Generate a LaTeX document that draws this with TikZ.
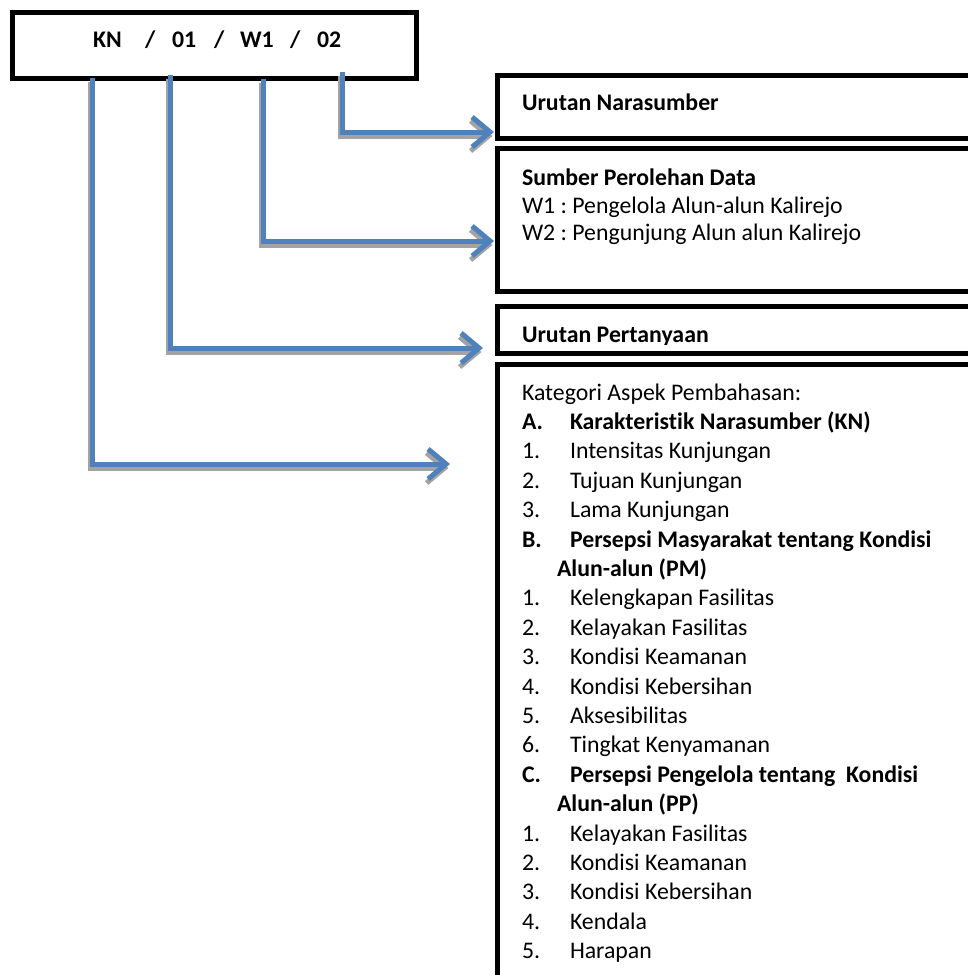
\documentclass[tikz,border=0pt]{standalone}
\usepackage{fontspec}
\setmainfont{Carlito}[Ligatures={NoCommon}]
\usetikzlibrary{arrows.meta}
\definecolor{arrowblue}{HTML}{4F81BD}
\definecolor{shadowgray}{HTML}{A3A3A3}
\frenchspacing
\begin{document}
\begin{tikzpicture}[x=1pt,y=-1pt,
  box/.style={draw=black, line width=5pt, inner sep=0pt, outer sep=0pt, anchor=north west, fill=white},
  txt/.style={anchor=base west, inner sep=0pt, outer sep=0pt, font=\fontsize{23.8}{28}\selectfont},
  btxt/.style={anchor=base west, inner sep=0pt, outer sep=0pt, font=\fontsize{23.8}{28}\selectfont\bfseries},
  conn/.style={draw=arrowblue, line width=5pt, -{Straight Barb[length=18pt,width=30pt]}},
  shade/.style={draw=shadowgray, line width=5pt, -{Straight Barb[length=18pt,width=30pt]}},
]
\clip (0,0) rectangle (968,975);
\fill[white] (0,0) rectangle (968,975);

% boxes
\node[box, minimum width=404.5pt, minimum height=65.5pt] (code) at (12,12.5) {};
\node[box, minimum width=500pt, minimum height=63pt] (b1) at (497.5,75.5) {};
\node[box, minimum width=500pt, minimum height=143pt] (b2) at (497.5,148) {};
\node[box, minimum width=500pt, minimum height=47pt] (b3) at (497.5,306.5) {};
\node[box, minimum width=500pt, minimum height=700pt] (b4) at (497.5,364.5) {};

% code text
\node[btxt] (tKN) at (93,47) {KN};
\node[btxt] (sl1) at (145,47) {/};
\node[btxt] (t01) at (172,47) {01};
\node[btxt] (sl2) at (214,47) {/};
\node[btxt] (tW1) at (240,47) {W1};
\node[btxt] (sl3) at (290,47) {/};
\node[btxt] (t02) at (317,47) {02};

% connector end points
\coordinate (s02) at (342,72);
\coordinate (e02) at (494,132);
\coordinate (sW1) at (263,79);
\coordinate (eW1) at (494,241);
\coordinate (s01) at (170,75);
\coordinate (e01) at (483,348);
\coordinate (sKN) at (92,78);
\coordinate (eKN) at (450,464);

% shadows
\foreach \s/\e in {s02/e02, sW1/eW1, s01/e01, sKN/eKN}
  \draw[shade] ([shift={(-1.5,4)}]\s) |- ([shift={(-1.5,4)}]\e);
% connectors
\foreach \s/\e in {s02/e02, sW1/eW1, s01/e01, sKN/eKN}
  \draw[conn] (\s) |- (\e);

% box texts
\node[btxt] (n1) at (522,110) {Urutan Narasumber};
\node[btxt] (n2) at (522,185) {Sumber Perolehan Data};
\node[txt] (n2a) at (522,213) {W1 : Pengelola Alun-alun Kalirejo};
\node[txt] (n2b) at (522,240) {W2 : Pengunjung Alun alun Kalirejo};
\begin{scope}
\clip (500,300) rectangle (968,344);
\node[btxt] (n3) at (522,342) {Urutan Pertanyaan};
\end{scope}

% list
\def\yy#1{400+29.4*#1}
\node[txt] (l0) at (522,{\yy{0}}) {Kategori Aspek Pembahasan:};
\node[btxt] (lAn) at (522,{\yy{1}}) {A.};
\node[btxt] (lA) at (570,{\yy{1}}) {Karakteristik Narasumber (KN)};
\node[txt] (lA1n) at (522,{\yy{2}}) {1.};
\node[txt] (lA1) at (570,{\yy{2}}) {Intensitas Kunjungan};
\node[txt] (lA2n) at (522,{\yy{3}}) {2.};
\node[txt] (lA2) at (570,{\yy{3}}) {Tujuan Kunjungan};
\node[txt] (lA3n) at (522,{\yy{4}}) {3.};
\node[txt] (lA3) at (570,{\yy{4}}) {Lama Kunjungan};
\node[btxt] (lBn) at (522,{\yy{5}}) {B.};
\node[btxt] (lB) at (570,{\yy{5}}) {Persepsi Masyarakat tentang Kondisi};
\node[btxt] (lBb) at (557,{\yy{6}}) {Alun-alun (PM)};
\node[txt] (lB1n) at (522,{\yy{7}}) {1.};
\node[txt] (lB1) at (570,{\yy{7}}) {Kelengkapan Fasilitas};
\node[txt] (lB2n) at (522,{\yy{8}}) {2.};
\node[txt] (lB2) at (570,{\yy{8}}) {Kelayakan Fasilitas};
\node[txt] (lB3n) at (522,{\yy{9}}) {3.};
\node[txt] (lB3) at (570,{\yy{9}}) {Kondisi Keamanan};
\node[txt] (lB4n) at (522,{\yy{10}}) {4.};
\node[txt] (lB4) at (570,{\yy{10}}) {Kondisi Kebersihan};
\node[txt] (lB5n) at (522,{\yy{11}}) {5.};
\node[txt] (lB5) at (570,{\yy{11}}) {Aksesibilitas};
\node[txt] (lB6n) at (522,{\yy{12}}) {6.};
\node[txt] (lB6) at (570,{\yy{12}}) {Tingkat Kenyamanan};
\node[btxt] (lCn) at (522,{\yy{13}}) {C.};
\node[btxt] (lC) at (570,{\yy{13}}) {Persepsi Pengelola tentang~~Kondisi};
\node[btxt] (lCb) at (557,{\yy{14}}) {Alun-alun (PP)};
\node[txt] (lC1n) at (522,{\yy{15}}) {1.};
\node[txt] (lC1) at (570,{\yy{15}}) {Kelayakan Fasilitas};
\node[txt] (lC2n) at (522,{\yy{16}}) {2.};
\node[txt] (lC2) at (570,{\yy{16}}) {Kondisi Keamanan};
\node[txt] (lC3n) at (522,{\yy{17}}) {3.};
\node[txt] (lC3) at (570,{\yy{17}}) {Kondisi Kebersihan};
\node[txt] (lC4n) at (522,{\yy{18}}) {4.};
\node[txt] (lC4) at (570,{\yy{18}}) {Kendala};
\node[txt] (lC5n) at (522,{\yy{19}}) {5.};
\node[txt] (lC5) at (570,{\yy{19}}) {Harapan};
\end{tikzpicture}
\end{document}
